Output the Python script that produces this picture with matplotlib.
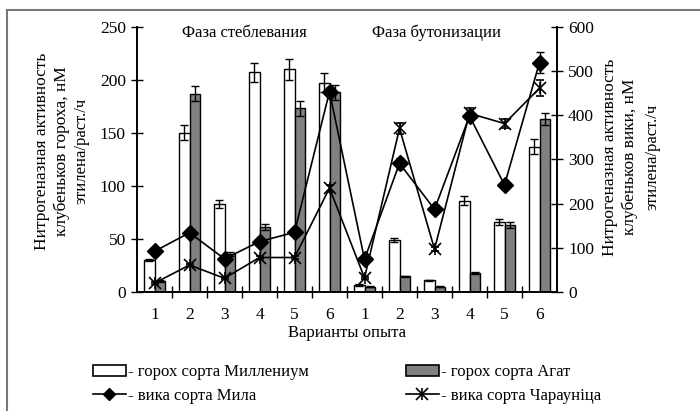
import matplotlib
matplotlib.use("Agg")
import matplotlib.pyplot as plt
import numpy as np
from matplotlib.lines import Line2D
from matplotlib.patches import Patch

plt.rcParams['font.family'] = ['Liberation Serif', 'DejaVu Serif']

variants = ['1', '2', '3', '4', '5', '6', '1', '2', '3', '4', '5', '6']

# горох (левая ось)
millenium = [30, 150, 83, 207, 210, 197, 7, 49, 11, 86, 66, 137]
millenium_err = [1, 7, 4, 9, 10, 9, 1, 2, 0.5, 4, 3, 7]
agat = [10, 187, 36, 61, 173, 188, 5, 15, 5, 18, 63, 163]
agat_err = [1, 7, 2, 3, 7, 7, 0.5, 0.5, 0.5, 1, 3, 6]

# вика (правая ось)
mila = [92, 134, 75, 114, 135, 453, 74, 291, 187, 398, 242, 519]
mila_err = [3, 4, 3, 4, 4, 10, 5, 12, 8, 10, 8, 23]
charaunica = [20, 61, 31, 78, 78, 235, 32, 370, 97, 404, 381, 461]
charaunica_err = [2, 3, 2, 3, 3, 8, 3, 13, 5, 12, 10, 18]

fig = plt.figure(figsize=(7, 4.11), dpi=100)
ax = fig.add_axes([137 / 700, 119 / 411, 420 / 700, 265.3 / 411])
ax2 = ax.twinx()

x = np.arange(len(variants))
w = 0.29
ebar = dict(ecolor='black', capsize=3, elinewidth=1, capthick=1)
ax.bar(x - w / 2, millenium, w, yerr=millenium_err, color='white',
       edgecolor='black', linewidth=1, error_kw=ebar)
ax.bar(x + w / 2, agat, w, yerr=agat_err, color='#808080',
       edgecolor='black', linewidth=1, error_kw=ebar)

ax2.errorbar(x, mila, yerr=mila_err, color='black', lw=1.2, marker='D',
             ms=8.5, capsize=3, elinewidth=1)
ax2.errorbar(x, charaunica, yerr=charaunica_err, color='black', lw=1.2,
             marker='x', ms=9, mew=1.2, capsize=3, elinewidth=1)
ax2.plot(x, charaunica, ls='none', marker='|', ms=9, mew=1.2, color='black')

ax.set_xlim(-0.5, len(variants) - 0.5)
ax.set_ylim(0, 250)
ax2.set_ylim(0, 600)
ax.set_yticks(np.arange(0, 251, 50))
ax2.set_yticks(np.arange(0, 601, 100))
ax.set_xticks(x)
ax.set_xticklabels(variants)
ax.set_xticks(np.arange(0.5, len(variants) - 1, 1), minor=True)
ax.tick_params(axis='x', which='major', length=0, labelsize=12.5, pad=11)
ax.tick_params(axis='x', which='minor', direction='inout', length=8, width=1)
ax.tick_params(axis='y', direction='inout', length=9, width=1, labelsize=12.5)
ax2.tick_params(axis='y', direction='inout', length=9, width=1, labelsize=12.5)

for a in (ax, ax2):
    a.spines['top'].set_visible(False)
    for s in ('left', 'right', 'bottom'):
        a.spines[s].set_linewidth(1.2)

ax.set_xlabel('Варианты опыта', fontsize=12, labelpad=1)

ax.text(0.255, 0.976, 'Фаза стеблевания', transform=ax.transAxes,
        ha='center', va='center', fontsize=12)
ax.text(0.714, 0.976, 'Фаза бутонизации', transform=ax.transAxes,
        ha='center', va='center', fontsize=12)

# подписи осей
fig.text(42 / 700, 1 - 151 / 411, 'Нитрогеназная активность', rotation=90,
         ha='center', va='center', fontsize=12.5)
fig.text(62 / 700, 1 - 151 / 411, 'клубеньков гороха, нМ', rotation=90,
         ha='center', va='center', fontsize=12.5)
fig.text(81 / 700, 1 - 151 / 411, 'этилена/раст./ч', rotation=90,
         ha='center', va='center', fontsize=12)
fig.text(610 / 700, 1 - 157 / 411, 'Нитрогеназная активность', rotation=90,
         ha='center', va='center', fontsize=12.5)
fig.text(630 / 700, 1 - 157 / 411, 'клубеньков вики, нМ', rotation=90,
         ha='center', va='center', fontsize=12.5)
fig.text(652 / 700, 1 - 157 / 411, 'этилена/раст./ч', rotation=90,
         ha='center', va='center', fontsize=12)

# легенда
h_mil = Patch(facecolor='white', edgecolor='black', linewidth=1.2)
h_agat = Patch(facecolor='#808080', edgecolor='black', linewidth=1.2)
h_mila = Line2D([], [], color='black', lw=1.2, marker='D', ms=6)
h_char = (Line2D([], [], color='black', lw=1.2, marker='x', ms=8, mew=1.2),
          Line2D([], [], ls='none', marker='|', ms=8, mew=1.2, color='black'))
leg_kw = dict(frameon=False, fontsize=12, handlelength=1.95, handleheight=0.65,
              handletextpad=0.15, borderpad=0, borderaxespad=0,
              labelspacing=0.45, loc='upper left')
l1 = fig.legend([h_mil, h_mila], ['- горох сорта Миллениум', '- вика сорта Мила'],
                bbox_to_anchor=(93 / 700, 1 - 364 / 411), **leg_kw)
l2 = fig.legend([h_agat, h_char], ['- горох сорта Агат', '- вика сорта Чарауніца'],
                bbox_to_anchor=(406 / 700, 1 - 364 / 411), **leg_kw)

# рамка рисунка
fig.add_artist(Line2D([7 / 700, 7 / 700], [0, 1 - 10.5 / 411], color='#777777',
                      lw=1.5, transform=fig.transFigure))
fig.add_artist(Line2D([7 / 700, 1], [1 - 10.5 / 411, 1 - 10.5 / 411],
                      color='#777777', lw=1.5, transform=fig.transFigure))

fig.savefig('out.png', dpi=100)
